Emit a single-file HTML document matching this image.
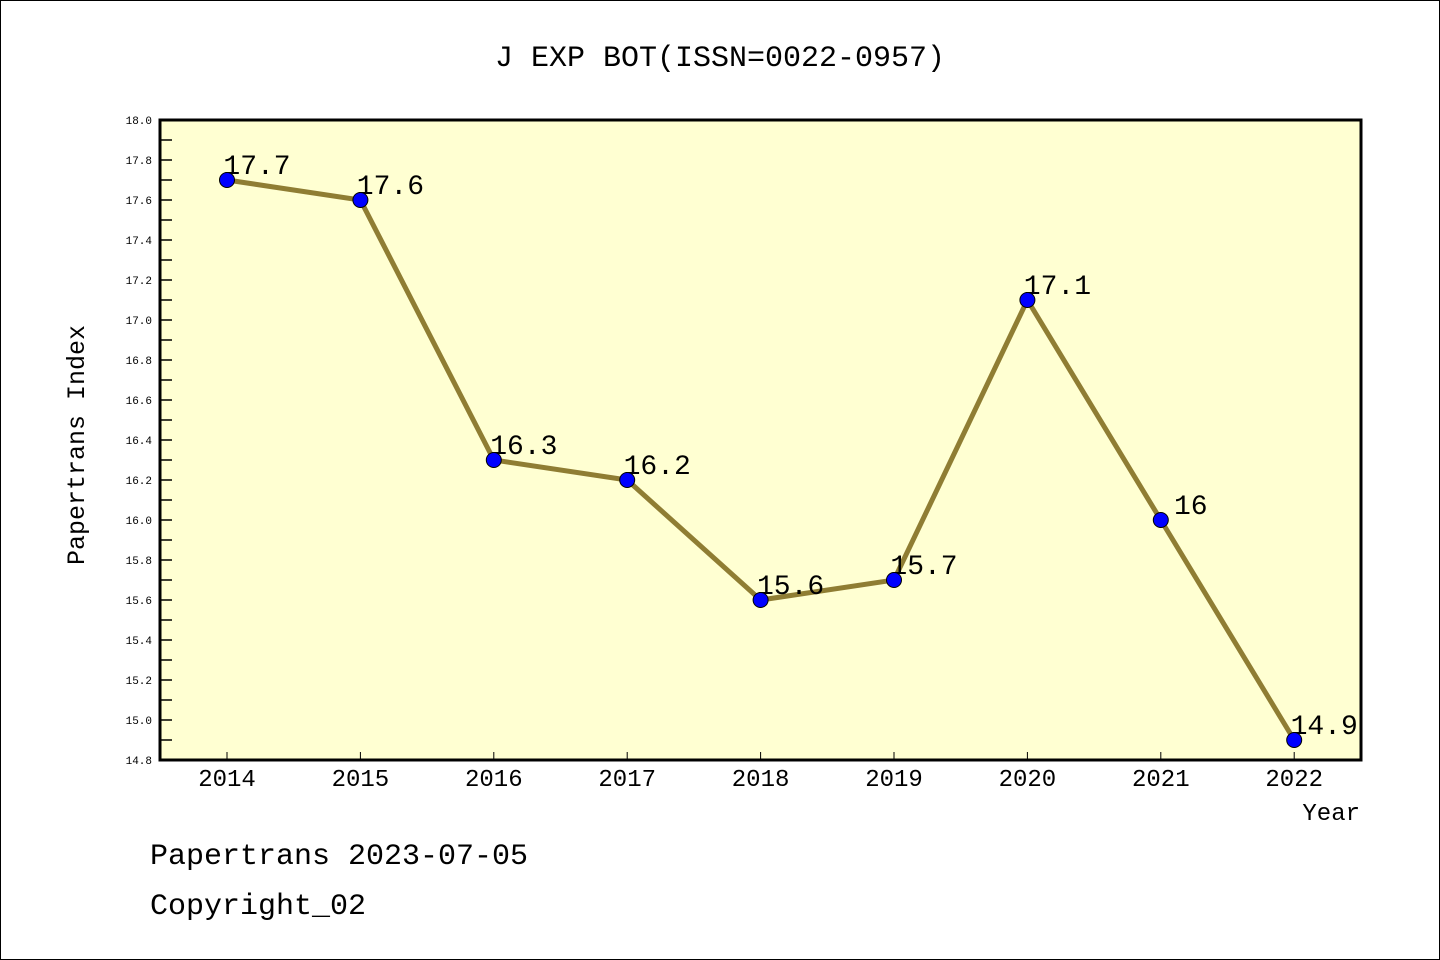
<!DOCTYPE html>
<html><head><meta charset="utf-8"><style>
html,body{margin:0;padding:0;background:#fff}
svg{display:block}
text{font-family:"WenQuanYi Zen Hei Mono","WenQuanYi Zen Hei","Liberation Mono",monospace;fill:#000}
</style></head><body>
<svg id="chart" width="1440" height="960" xmlns="http://www.w3.org/2000/svg">
<rect x="0.5" y="0.5" width="1439" height="959" fill="#fff" stroke="#000" stroke-width="1"/>
<text x="720" y="66" font-size="30" text-anchor="middle">J EXP BOT(ISSN=0022-0957)</text>
<rect x="160" y="120" width="1201" height="640" fill="#ffffd2"/>
<g id="yaxis"></g>
<g id="xaxis"></g>
<g id="series"></g>
<rect x="160" y="120" width="1201" height="640" fill="none" stroke="#000" stroke-width="3"/>
<text x="84" y="445" font-size="25" text-anchor="middle" transform="rotate(-90 84 445)">Papertrans Index</text>
<text x="1360" y="820" font-size="24" text-anchor="end">Year</text>
<text x="150" y="864" font-size="30">Papertrans 2023-07-05</text>
<text x="150" y="914" font-size="30">Copyright_02</text>
</svg>
<script>
const years = ["2014","2015","2016","2017","2018","2019","2020","2021","2022"];
const values = [17.7,17.6,16.3,16.2,15.6,15.7,17.1,16.0,14.9];
const valueLabels = ["17.7","17.6","16.3","16.2","15.6","15.7","17.1","16","14.9"];
const yTicks = ["14.8","15.0","15.2","15.4","15.6","15.8","16.0","16.2","16.4","16.6","16.8","17.0","17.2","17.4","17.6","17.8","18.0"];
const SVGNS="http://www.w3.org/2000/svg";
const yMin=14.8,yMax=18.0,plotTop=120,plotBot=760,plotLeft=160;
const yScale=v=>plotBot-(v-yMin)/(yMax-yMin)*(plotBot-plotTop);
const xScale=i=>227+i*133.4;
function mk(tag,attrs,parent){const e=document.createElementNS(SVGNS,tag);for(const k in attrs)e.setAttribute(k,attrs[k]);parent.appendChild(e);return e;}
const ya=document.getElementById('yaxis'),xa=document.getElementById('xaxis'),sg=document.getElementById('series');
yTicks.forEach((t,i)=>{
  const v=parseFloat(t);
  const l=mk('line',{x1:plotLeft,x2:plotLeft+12,y1:yScale(v),y2:yScale(v),stroke:'#000','stroke-width':1.5},ya);
  
  
  const tx=mk('text',{x:152,y:yScale(v)+4,'font-size':11,'text-anchor':'end'},ya);
  tx.textContent=t;
  
  
  if(i<yTicks.length-1){
    const m=mk('line',{x1:plotLeft,x2:plotLeft+12,y1:yScale(v+0.1),y2:yScale(v+0.1),stroke:'#000','stroke-width':1.5},ya);
    
    
  }
});
years.forEach((yr,i)=>{
  const l=mk('line',{x1:xScale(i),x2:xScale(i),y1:plotBot,y2:plotBot-8,stroke:'#000','stroke-width':1},xa);
  
  
  const t=mk('text',{x:xScale(i),y:plotBot+26,'font-size':24,'text-anchor':'middle'},xa);
  t.textContent=yr;
  
  
});
const pl=mk('polyline',{points:values.map((v,i)=>xScale(i)+','+yScale(v)).join(' '),fill:'none',stroke:'#8f7d33','stroke-width':5},sg);


values.forEach((v,i)=>{
  const t=mk('text',{x:xScale(i)+30,y:yScale(v)-6,'font-size':28,'text-anchor':'middle'},sg);
  t.textContent=valueLabels[i];
  
  
});
values.forEach((v,i)=>{
  const c=mk('circle',{cx:xScale(i),cy:yScale(v),r:7.5,fill:'#0000ff',stroke:'#000','stroke-width':1},sg);
  
  
});
</script>
</body></html>
